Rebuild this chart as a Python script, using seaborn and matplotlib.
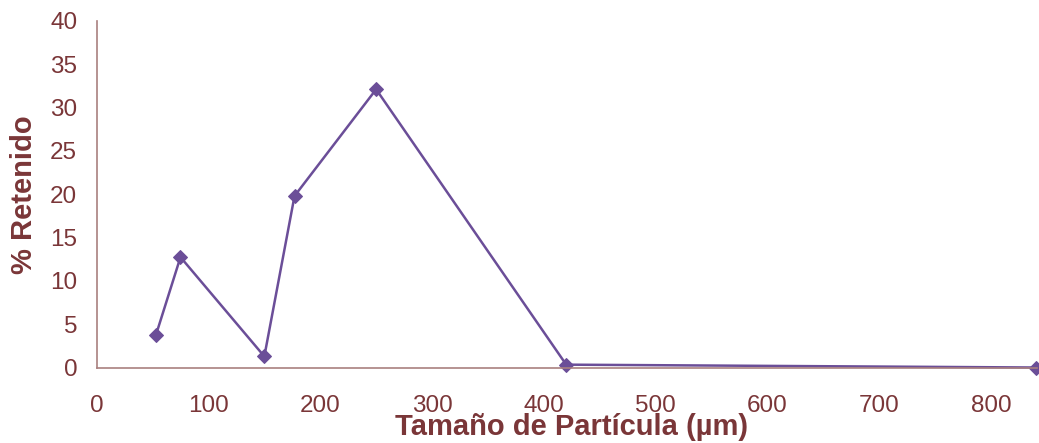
import matplotlib
matplotlib.use("Agg")
import matplotlib.pyplot as plt
import seaborn as sns
import pandas as pd

# Sieve analysis: particle size (µm) vs. percent retained
particle_size = [53, 75, 150, 177, 250, 420, 840]
pct_retained = [3.75, 12.75, 1.3, 19.8, 32.1, 0.35, 0.02]

x_ticks = [0, 100, 200, 300, 400, 500, 600, 700, 800]
y_ticks = [0, 5, 10, 15, 20, 25, 30, 35, 40]

line_color = "#6B4E98"
text_color = "#7A3638"
axis_color = "#A9807F"

sns.set_theme(style="white")
plt.rcParams["font.family"] = ["Liberation Sans", "DejaVu Sans"]

df = pd.DataFrame({"size": particle_size, "retained": pct_retained})

fig = plt.figure(figsize=(10.39, 4.43), dpi=100)
ax = fig.add_axes([0.093, 0.17, 0.905, 0.783])

sns.lineplot(data=df, x="size", y="retained", ax=ax, color=line_color,
             marker="D", markersize=7.5, markeredgecolor=line_color,
             linewidth=1.8, sort=False, clip_on=False)

ax.set_xlim(0, 841)
ax.set_ylim(0, 40)
ax.set_xticks(x_ticks)
ax.set_yticks(y_ticks)

for side in ["top", "right"]:
    ax.spines[side].set_visible(False)
for side in ["left", "bottom"]:
    ax.spines[side].set_color(axis_color)
    ax.spines[side].set_linewidth(1.2)

ax.tick_params(axis="both", direction="out", length=5, width=1.1,
               color=axis_color, labelcolor=text_color, labelsize=17.5)
ax.tick_params(axis="x", pad=14.5)
ax.tick_params(axis="y", pad=9)

ax.set_xlabel("Tamaño de Partícula (µm)", fontsize=21, fontweight="bold",
              color=text_color)
ax.xaxis.set_label_coords(0.505, -0.132)
ax.set_ylabel("% Retenido", fontsize=21, fontweight="bold",
              color=text_color, labelpad=9)

fig.savefig("out.png", dpi=100)
